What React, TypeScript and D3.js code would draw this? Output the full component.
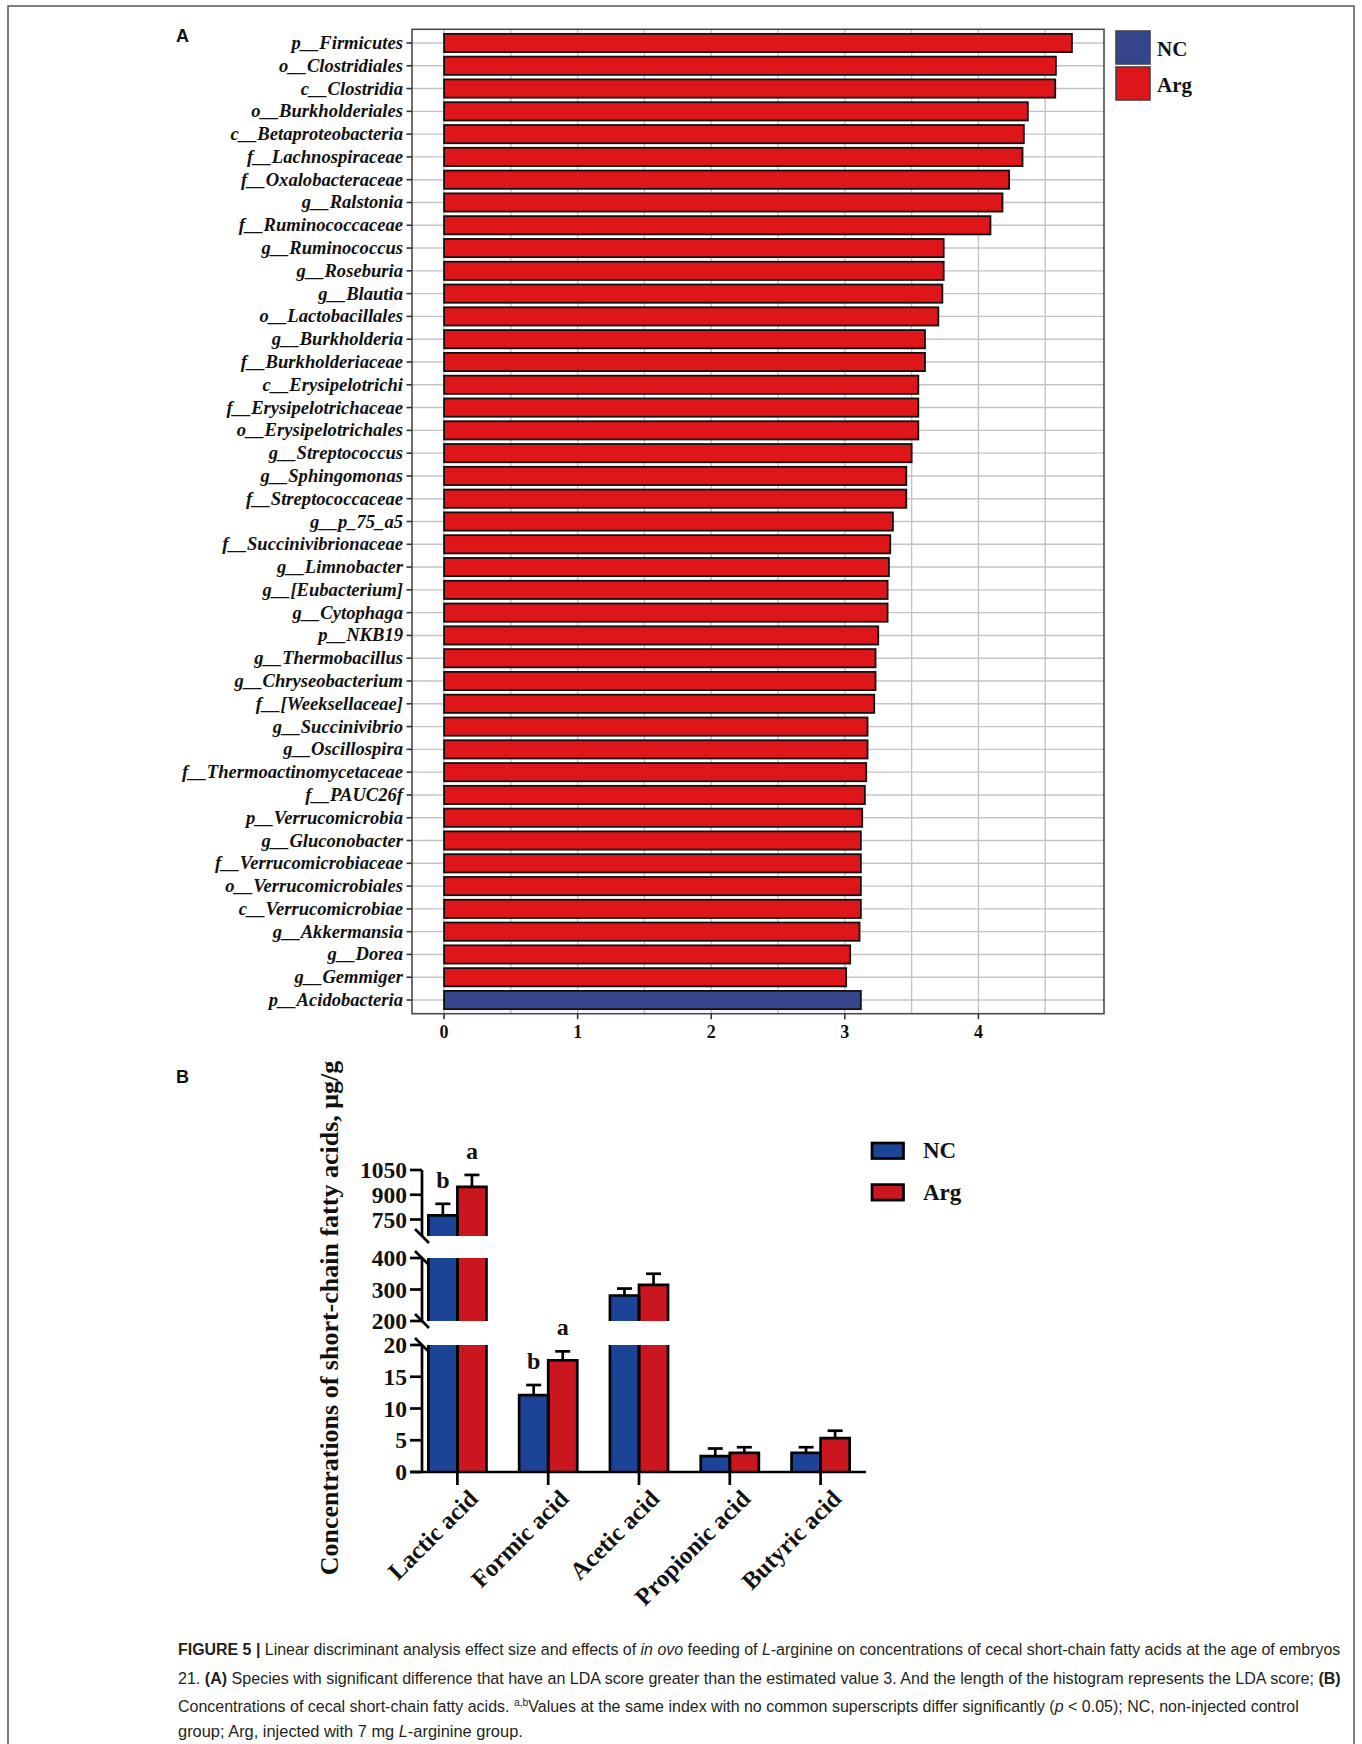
import React, { useLayoutEffect, useRef } from 'react';
import * as d3 from 'd3';

// ---------- Panel A data (LDA scores) ----------
const taxa = [
  'p__Firmicutes', 'o__Clostridiales', 'c__Clostridia', 'o__Burkholderiales', 'c__Betaproteobacteria',
  'f__Lachnospiraceae', 'f__Oxalobacteraceae', 'g__Ralstonia', 'f__Ruminococcaceae', 'g__Ruminococcus',
  'g__Roseburia', 'g__Blautia', 'o__Lactobacillales', 'g__Burkholderia', 'f__Burkholderiaceae',
  'c__Erysipelotrichi', 'f__Erysipelotrichaceae', 'o__Erysipelotrichales', 'g__Streptococcus', 'g__Sphingomonas',
  'f__Streptococcaceae', 'g__p_75_a5', 'f__Succinivibrionaceae', 'g__Limnobacter', 'g__[Eubacterium]',
  'g__Cytophaga', 'p__NKB19', 'g__Thermobacillus', 'g__Chryseobacterium', 'f__[Weeksellaceae]',
  'g__Succinivibrio', 'g__Oscillospira', 'f__Thermoactinomycetaceae', 'f__PAUC26f', 'p__Verrucomicrobia',
  'g__Gluconobacter', 'f__Verrucomicrobiaceae', 'o__Verrucomicrobiales', 'c__Verrucomicrobiae', 'g__Akkermansia',
  'g__Dorea', 'g__Gemmiger', 'p__Acidobacteria',
];
const ldaScores = [
  4.70, 4.58, 4.575, 4.37, 4.34,
  4.33, 4.23, 4.18, 4.09, 3.74,
  3.74, 3.73, 3.70, 3.60, 3.60,
  3.55, 3.55, 3.55, 3.50, 3.46,
  3.46, 3.36, 3.34, 3.33, 3.32,
  3.32, 3.25, 3.23, 3.23, 3.22,
  3.17, 3.17, 3.16, 3.15, 3.13,
  3.12, 3.12, 3.12, 3.12, 3.11,
  3.04, 3.01, 3.12,
];
const taxaGroup = [
  'Arg', 'Arg', 'Arg', 'Arg', 'Arg', 'Arg', 'Arg', 'Arg', 'Arg', 'Arg',
  'Arg', 'Arg', 'Arg', 'Arg', 'Arg', 'Arg', 'Arg', 'Arg', 'Arg', 'Arg',
  'Arg', 'Arg', 'Arg', 'Arg', 'Arg', 'Arg', 'Arg', 'Arg', 'Arg', 'Arg',
  'Arg', 'Arg', 'Arg', 'Arg', 'Arg', 'Arg', 'Arg', 'Arg', 'Arg', 'Arg',
  'Arg', 'Arg', 'NC',
];
const ldaTicks = [0, 1, 2, 3, 4];
const ldaGrid = [0, 0.5, 1, 1.5, 2, 2.5, 3, 3.5, 4, 4.5];
const groupsA = ['NC', 'Arg'];

// ---------- Panel B data (SCFA concentrations) ----------
const acids = ['Lactic acid', 'Formic acid', 'Acetic acid', 'Propionic acid', 'Butyric acid'];
const ncMeans = [775, 12.1, 281, 2.5, 3.0];
const ncErr = [70, 1.6, 22, 1.2, 0.9];
const argMeans = [948, 17.6, 315, 3.0, 5.35];
const argErr = [72, 1.4, 35, 0.9, 1.15];
const ncLetters = ['b', 'b', '', '', ''];
const argLetters = ['a', 'a', '', '', ''];
const segDomains = [[0, 20], [200, 400], [650, 1050]];
const segTicks = [[0, 5, 10, 15, 20], [200, 300, 400], [750, 900, 1050]];
const groupsB = ['NC', 'Arg'];

const colA: Record<string, string> = { NC: '#36468D', Arg: '#DF1619' };
const colB: Record<string, string> = { NC: '#1C4496', Arg: '#C9161F' };

const SERIF = '"Liberation Serif", "Times New Roman", serif';
const SANS = '"Liberation Sans", Arial, sans-serif';
const NARROW = '"Liberation Sans Narrow", "Liberation Sans", Arial, sans-serif';

type Seg = { t: string; b?: boolean; i?: boolean; sup?: boolean };
const captionLines: Seg[][] = [
  [
    { t: 'FIGURE 5 | ', b: true },
    { t: 'Linear discriminant analysis effect size and effects of ' },
    { t: 'in ovo', i: true },
    { t: ' feeding of ' },
    { t: 'L', i: true },
    { t: '-arginine on concentrations of cecal short-chain fatty acids at the age of embryos' },
  ],
  [
    { t: '21. ' },
    { t: '(A)', b: true },
    { t: ' Species with significant difference that have an LDA score greater than the estimated value 3. And the length of the histogram represents the LDA score; ' },
    { t: '(B)', b: true },
  ],
  [
    { t: 'Concentrations of cecal short-chain fatty acids. ' },
    { t: 'a,b', sup: true },
    { t: 'Values at the same index with no common superscripts differ significantly (' },
    { t: 'p', i: true },
    { t: ' < 0.05); NC, non-injected control' },
  ],
  [
    { t: 'group; Arg, injected with 7 mg ' },
    { t: 'L', i: true },
    { t: '-arginine group.' },
  ],
];
const captionWidths = [1163, 1164, 1121, 345];

function PanelA() {
  const x = d3.scaleLinear().domain([-0.24, 4.94]).range([412, 1104]);
  const y = d3.scalePoint<string>().domain(taxa).range([29.3, 1013.7]).padding(0.6);
  const step = y.step();
  const bh = step * 0.8;
  const [x0, x1] = x.range();
  const [y0, y1] = y.range();
  return (
    <g>
      <text x={176} y={42} fontFamily={SANS} fontWeight="bold" fontSize={18} fill="#111">A</text>
      <rect x={x0} y={y0} width={x1 - x0} height={y1 - y0} fill="#fff" />
      {ldaGrid.map((v) => (
        <line key={'gv' + v} x1={x(v)} x2={x(v)} y1={y0} y2={y1} stroke="#C4C4C4" strokeWidth={1.4} />
      ))}
      {taxa.map((t) => (
        <line key={'gh' + t} x1={x0} x2={x1} y1={y(t)} y2={y(t)} stroke="#C4C4C4" strokeWidth={1.4} />
      ))}
      {taxa.map((t, i) => (
        <rect
          key={'b' + t}
          x={x(0)}
          y={(y(t) as number) - bh / 2}
          width={x(ldaScores[i]) - x(0)}
          height={bh}
          fill={colA[taxaGroup[i]]}
          stroke="#111"
          strokeWidth={1.8}
        />
      ))}
      <rect x={x0} y={y0} width={x1 - x0} height={y1 - y0} fill="none" stroke="#4a4a4a" strokeWidth={1.6} />
      {taxa.map((t) => (
        <g key={'yt' + t}>
          <line x1={x0 - 5.5} x2={x0} y1={y(t)} y2={y(t)} stroke="#333" strokeWidth={1.6} />
          <text
            x={x0 - 9}
            y={(y(t) as number) + 6}
            textAnchor="end"
            fontFamily={SERIF}
            fontStyle="italic"
            fontWeight="bold"
            fontSize={18.6}
            fill="#111"
          >
            {t}
          </text>
        </g>
      ))}
      {ldaTicks.map((v) => (
        <g key={'xt' + v}>
          <line x1={x(v)} x2={x(v)} y1={y1} y2={y1 + 5.5} stroke="#333" strokeWidth={1.6} />
          <text x={x(v)} y={y1 + 24} textAnchor="middle" fontFamily={SERIF} fontWeight="bold" fontSize={18} fill="#111">
            {v}
          </text>
        </g>
      ))}
      {groupsA.map((g, i) => (
        <g key={'lg' + g}>
          <rect x={1116} y={31 + i * 36} width={34} height={33} fill={colA[g]} stroke="#444" strokeWidth={1.6} />
          <text x={1157} y={56 + i * 36} fontFamily={SERIF} fontWeight="bold" fontSize={21} fill="#111">
            {g}
          </text>
        </g>
      ))}
    </g>
  );
}

function PanelB() {
  const xB = d3.scaleBand<string>().domain(acids).range([412, 866]).padding(0);
  const sub = d3.scaleBand<string>().domain(groupsB).range([0, xB.step() * 0.64]);
  const segRanges = [[1472, 1345], [1321, 1258], [1236, 1170]];
  const scales = segDomains.map((d, i) => d3.scaleLinear().domain(d).range(segRanges[i]));
  const axisX = 422;
  const sw = 2.7;
  const means: Record<string, number[]> = { NC: ncMeans, Arg: argMeans };
  const errs: Record<string, number[]> = { NC: ncErr, Arg: argErr };
  const letters: Record<string, string[]> = { NC: ncLetters, Arg: argLetters };
  const segOf = (v: number) => segDomains.findIndex((d) => v >= d[0] && v <= d[1]);

  const bars: JSX.Element[] = [];
  const outlines: JSX.Element[] = [];
  acids.forEach((a, ci) => {
    const center = (xB(a) as number) + xB.bandwidth() / 2;
    const left = center - sub.step();
    groupsB.forEach((g) => {
      const v = means[g][ci];
      const bx0 = left + (sub(g) as number);
      const bx1 = bx0 + sub.bandwidth();
      scales.forEach((s, si) => {
        const [lo, hi] = segDomains[si];
        if (v <= lo) return;
        const top = Math.min(v, hi);
        const yb = s(lo);
        const yt = s(top);
        bars.push(
          <rect key={`f${a}${g}${si}`} x={bx0} y={yt} width={bx1 - bx0} height={yb - yt} fill={colB[g]} />
        );
        if (v <= hi) {
          outlines.push(
            <polyline
              key={`o${a}${g}${si}`}
              points={`${bx0},${yb} ${bx0},${yt} ${bx1},${yt} ${bx1},${yb}`}
              fill="none"
              stroke="#000"
              strokeWidth={sw}
            />
          );
        } else {
          outlines.push(<line key={`l${a}${g}${si}`} x1={bx0} x2={bx0} y1={yb} y2={yt} stroke="#000" strokeWidth={sw} />);
          outlines.push(<line key={`r${a}${g}${si}`} x1={bx1} x2={bx1} y1={yb} y2={yt} stroke="#000" strokeWidth={sw} />);
        }
      });
      const si = segOf(v);
      const s = scales[si];
      const yTop = s(v + errs[g][ci]);
      const cx = (bx0 + bx1) / 2;
      outlines.push(
        <g key={`e${a}${g}`}>
          <line x1={cx} x2={cx} y1={s(v)} y2={yTop} stroke="#000" strokeWidth={sw} />
          <line x1={cx - 7.5} x2={cx + 7.5} y1={yTop} y2={yTop} stroke="#000" strokeWidth={sw} />
          {letters[g][ci] ? (
            <text x={cx} y={yTop - 16} textAnchor="middle" fontFamily={SERIF} fontWeight="bold" fontSize={24} fill="#111">
              {letters[g][ci]}
            </text>
          ) : null}
        </g>
      );
    });
  });

  return (
    <g>
      <text x={176} y={1083} fontFamily={SANS} fontWeight="bold" fontSize={18} fill="#111">B</text>
      {bars}
      {outlines}
      {scales.map((s, si) => {
        const [ya, yb] = s.range();
        return (
          <g key={'ax' + si}>
            <line x1={axisX} x2={axisX} y1={ya} y2={yb} stroke="#000" strokeWidth={sw} />
            {si > 0 ? (
              <line x1={axisX - 7} x2={axisX + 7} y1={ya - 7} y2={ya + 7} stroke="#000" strokeWidth={sw} />
            ) : null}
            {si < scales.length - 1 ? (
              <line x1={axisX - 7} x2={axisX + 7} y1={yb - 7} y2={yb + 7} stroke="#000" strokeWidth={sw} />
            ) : null}
            {segTicks[si].map((t) => (
              <g key={'t' + t}>
                <line x1={axisX - 12} x2={axisX} y1={s(t)} y2={s(t)} stroke="#000" strokeWidth={sw} />
                <text x={axisX - 15} y={s(t) + 8} textAnchor="end" fontFamily={SERIF} fontWeight="bold" fontSize={23.5} fill="#111">
                  {t}
                </text>
              </g>
            ))}
          </g>
        );
      })}
      <line x1={axisX - 12} x2={866} y1={1472} y2={1472} stroke="#000" strokeWidth={sw} />
      {acids.map((a) => {
        const cx = (xB(a) as number) + xB.bandwidth() / 2;
        return (
          <g key={'xa' + a}>
            <line x1={cx} x2={cx} y1={1472} y2={1485} stroke="#000" strokeWidth={sw} />
            <text
              transform={`translate(${cx + 22},${1500}) rotate(-45)`}
              textAnchor="end"
              fontFamily={SERIF}
              fontWeight="bold"
              fontSize={24.5}
              fill="#111"
            >
              {a}
            </text>
          </g>
        );
      })}
      <text
        transform="translate(329,1318) rotate(-90)"
        textAnchor="middle"
        dy="0.35em"
        fontFamily={SERIF}
        fontWeight="bold"
        fontSize={26}
        fill="#111"
      >
        Concentrations of short-chain fatty acids, μg/g
      </text>
      {groupsB.map((g, i) => (
        <g key={'lb' + g}>
          <rect x={872} y={1143} width={31.5} height={15.5} fill={colB[g]} stroke="#000" strokeWidth={sw} transform={`translate(0,${i * 41.6})`} />
          <text x={923} y={1158 + i * 41.6} fontFamily={SERIF} fontWeight="bold" fontSize={23} fill="#111">
            {g}
          </text>
        </g>
      ))}
    </g>
  );
}

function CaptionLine({ line, y, width }: { line: Seg[]; y: number; width: number }) {
  const ref = useRef<SVGTextElement>(null);
  useLayoutEffect(() => {
    const el = ref.current;
    if (!el) return;
    el.removeAttribute('transform');
    const natural = el.getComputedTextLength();
    if (natural > 0) el.setAttribute('transform', `scale(${width / natural},1)`);
  }, [width]);
  return (
    <g transform={`translate(178,${y})`}>
      <text ref={ref} x={0} y={0} fontFamily={NARROW} fontSize={17} fill="#231F20">
        {line.map((s, si) => (
          <tspan
            key={si}
            fontWeight={s.b ? 'bold' : 'normal'}
            fontStyle={s.i ? 'italic' : 'normal'}
            fontSize={s.sup ? 11 : 17}
            dy={s.sup ? -6 : si > 0 && line[si - 1].sup ? 6 : undefined}
          >
            {s.t}
          </tspan>
        ))}
      </text>
    </g>
  );
}

function Caption() {
  const ys = [1655, 1684, 1712, 1737];
  return (
    <g>
      {captionLines.map((line, li) => (
        <CaptionLine key={'cap' + li} line={line} y={ys[li]} width={captionWidths[li]} />
      ))}
    </g>
  );
}

export default function App() {
  return (
    <svg
      width={1362}
      height={1744}
      viewBox="0 0 1362 1744"
      style={{ position: 'absolute', left: 0, top: 0, background: '#fff' }}
    >
      <rect x={0} y={0} width={1362} height={1744} fill="#fff" />
      <rect x={8} y={6} width={1346} height={1760} fill="none" stroke="#555" strokeWidth={1.5} />
      <PanelA />
      <PanelB />
      <Caption />
    </svg>
  );
}
